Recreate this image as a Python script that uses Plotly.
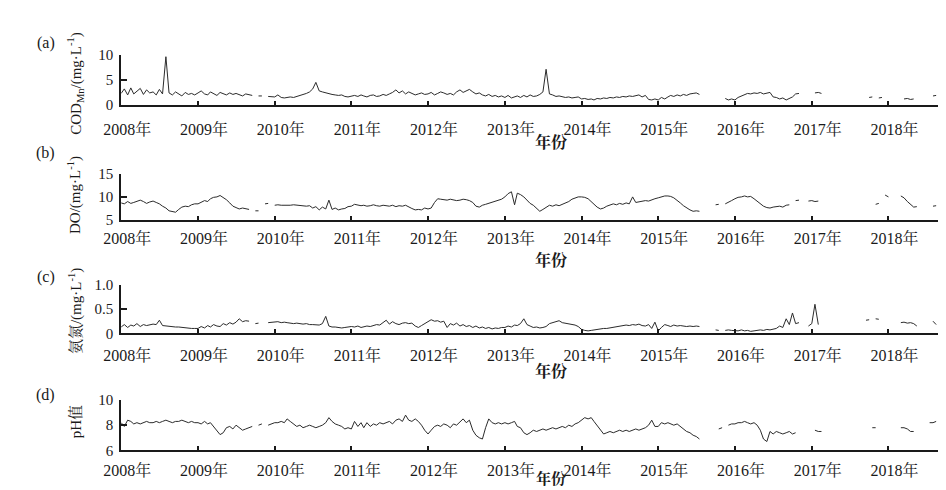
import plotly.graph_objects as go

N = None
# semi-monthly observation dates (1st and 16th of each month)
dates = [f"{y}-{m:02d}-{d:02d}" for y in range(2008, 2019) for m in range(1, 13) for d in (1, 16)][:262]

years = ["2008", "2009", "2010", "2011", "2012", "2013", "2014", "2015", "2016", "2017", "2018"]
year_labels = [y + "年" for y in years]

cod = (
    [2.3, 3.2, 2.0, 3.4, 2.2, 2.8, 3.3, 2.1, 3.0, 2.4, 2.6, 2.0, 3.1, 2.2, 9.6, 2.4, 2.0, 2.6, 2.2, 1.8, 2.5, 2.1, 2.3, 2.0]
    + [2.4, 2.8, 2.2, 2.0, 2.6, 2.3, 1.9, 2.5, 2.2, 2.0, 2.4, 2.1, 2.3, 2.0, 1.8, 2.2, 2.0, 1.9, N, 1.8, 1.8, N, 1.7, 1.7]
    + [1.6, 2.0, 1.5, 1.4, 1.5, 1.6, 1.5, 1.7, 1.8, 2.0, 2.3, 2.6, 3.2, 4.5, 2.8, 2.6, 2.4, 2.2, 2.1, 2.0, 1.9, 2.0, 1.7, 1.6]
    + [1.8, 1.9, 1.7, 2.0, 1.8, 1.6, 1.9, 2.0, 1.7, 1.8, 2.1, 1.9, 2.2, 2.5, 3.0, 2.4, 2.8, 2.2, 2.6, 2.3, 2.0, 2.2, 2.4, 2.1]
    + [2.2, 2.5, 2.0, 2.3, 2.6, 2.4, 2.1, 2.3, 2.0, 2.6, 3.0, 2.5, 2.8, 3.1, 2.6, 2.2, 2.4, 2.0, 1.8, 2.1, 1.7, 1.9, 1.6, 1.8]
    + [1.5, 1.9, 1.4, 1.7, 1.8, 1.5, 1.9, 1.6, 2.0, 1.7, 1.8, 2.1, 2.6, 7.1, 2.2, 2.0, 1.7, 1.8, 1.6, 1.5, 1.6, 1.4, 1.5, 1.6]
    + [1.2, 1.3, 1.1, 1.2, 1.0, 1.3, 1.2, 1.4, 1.3, 1.5, 1.4, 1.6, 1.5, 1.7, 1.6, 1.8, 1.7, 1.9, 2.0, 1.6, 1.9, 1.1, 1.0, 1.2]
    + [1.0, 1.5, 1.2, 1.6, 1.9, 1.7, 2.0, 1.8, 2.1, 1.9, 2.2, 2.3, 2.4, 2.1, N, N, N, N, N, N, N, 1.3, 1.0, 1.2]
    + [1.0, 1.5, 1.8, 2.1, 2.3, 2.2, 2.4, 2.3, 2.5, 2.2, 2.4, 2.5, 1.6, 1.5, 1.2, 1.4, 1.0, 1.3, 1.6, 2.2, 2.3, N, N, N]
    + [N, 2.4, 2.5, 2.3, N, N, N, N, N, N, N, N, N, N, N, N, N, N, 1.5, 1.6, N, 1.4, 1.5, N]
    + [N, N, N, N, N, 1.2, 1.3, 1.1, 1.2, N, N, N, N, N, 1.8, 1.9, N, N, N, 1.8, 1.8, N]
)

do = (
    [8.7, 8.5, 9.0, 8.6, 8.8, 9.0, 9.3, 9.0, 8.6, 8.9, 9.1, 8.8, 8.5, 8.0, 7.6, 7.0, 6.9, 6.7, 7.3, 7.8, 8.0, 7.9, 8.3, 8.5]
    + [8.5, 8.8, 9.2, 9.0, 9.6, 9.9, 10.0, 10.3, 9.9, 9.4, 8.7, 8.0, 7.7, 7.4, 7.6, 7.4, 7.3, N, 7.0, 7.0, N, 8.5, 8.6, N]
    + [8.2, 8.3, 8.2, 8.2, 8.1, 8.2, 8.3, 8.2, 8.2, 8.1, 8.0, 8.1, 7.6, 7.9, 7.2, 7.8, 7.4, 9.3, 7.3, 7.6, 7.2, 7.4, 7.5, 7.9]
    + [8.0, 8.4, 8.2, 8.1, 8.2, 8.0, 8.1, 8.3, 8.1, 8.0, 8.2, 8.1, 8.0, 8.2, 7.9, 8.1, 8.0, 8.2, 7.8, 7.5, 7.2, 7.3, 7.2, 7.6]
    + [7.4, 7.6, 8.8, 9.6, 9.5, 9.4, 9.3, 9.5, 9.4, 9.2, 9.3, 9.5, 9.4, 9.2, 8.8, 8.0, 7.8, 8.2, 8.4, 8.6, 8.8, 9.0, 9.2, 9.5]
    + [10.0, 10.7, 11.1, 8.3, 10.8, 10.5, 10.0, 9.3, 8.6, 8.2, 7.6, 6.9, 7.3, 7.8, 8.2, 8.0, 8.3, 8.1, 8.4, 8.6, 9.0, 9.5, 9.8, 10.0]
    + [10.0, 9.9, 9.6, 9.0, 8.4, 7.8, 7.4, 7.6, 8.0, 8.2, 8.5, 8.3, 8.6, 8.4, 8.7, 8.5, 10.0, 8.8, 8.9, 9.0, 9.2, 9.1, 9.4, 9.6]
    + [9.8, 10.0, 10.2, 10.2, 10.1, 9.8, 9.3, 8.7, 8.1, 7.6, 7.2, 6.9, 7.0, 6.9, N, N, N, N, 8.3, 8.4, N, 8.5, 8.8, 9.2]
    + [9.6, 9.9, 10.0, 10.2, 10.0, 10.1, 9.6, 9.0, 8.5, 8.0, 7.7, 7.6, 7.8, 7.9, 8.0, 7.8, 8.2, 8.3, N, 9.2, 9.3, N, N, 9.1]
    + [9.2, 9.0, 9.1, N, N, N, N, N, N, N, N, N, N, N, N, N, N, N, N, N, 8.4, 8.6, N, 10.4]
    + [10.0, N, N, N, 10.2, 9.8, 9.0, 8.4, 7.8, 7.9, N, N, N, N, 8.0, 8.1, N, N, 10.0, 10.1, N, N]
)

nh3n = (
    [0.13, 0.18, 0.12, 0.17, 0.15, 0.20, 0.14, 0.18, 0.16, 0.17, 0.19, 0.18, 0.27, 0.16, 0.15, 0.14, 0.14, 0.13, 0.13, 0.12, 0.12, 0.11, 0.10, 0.10]
    + [0.10, 0.14, 0.11, 0.16, 0.13, 0.18, 0.15, 0.14, 0.20, 0.17, 0.22, 0.19, 0.23, 0.30, 0.24, 0.26, 0.25, N, 0.20, 0.21, N, N, 0.22, 0.23]
    + [0.23, 0.24, 0.22, 0.23, 0.22, 0.21, 0.20, 0.21, 0.20, 0.19, 0.20, 0.18, 0.18, 0.17, 0.17, 0.20, 0.35, 0.15, 0.13, 0.13, 0.12, 0.11, 0.12, 0.13]
    + [0.14, 0.13, 0.15, 0.12, 0.14, 0.15, 0.14, 0.16, 0.18, 0.17, 0.22, 0.27, 0.19, 0.24, 0.20, 0.18, 0.21, 0.22, 0.20, 0.21, 0.15, 0.12, 0.16, 0.20]
    + [0.24, 0.28, 0.25, 0.26, 0.23, 0.25, 0.12, 0.20, 0.17, 0.21, 0.15, 0.18, 0.14, 0.16, 0.12, 0.15, 0.11, 0.13, 0.10, 0.12, 0.09, 0.11, 0.10, 0.12]
    + [0.12, 0.15, 0.13, 0.17, 0.16, 0.20, 0.30, 0.18, 0.15, 0.12, 0.13, 0.11, 0.12, 0.14, 0.20, 0.22, 0.24, 0.26, 0.22, 0.21, 0.20, 0.18, 0.17, 0.14]
    + [0.08, 0.06, 0.05, 0.06, 0.07, 0.08, 0.09, 0.10, 0.10, 0.11, 0.12, 0.13, 0.14, 0.15, 0.17, 0.16, 0.18, 0.17, 0.19, 0.16, 0.15, 0.18, 0.10, 0.23]
    + [0.05, 0.12, 0.18, 0.16, 0.14, 0.17, 0.15, 0.16, 0.15, 0.14, 0.15, 0.14, 0.15, 0.14, N, N, N, N, 0.07, 0.06, N, 0.06, 0.07, 0.06]
    + [0.06, 0.05, 0.07, 0.05, 0.06, 0.04, 0.05, 0.06, 0.07, 0.06, 0.08, 0.07, 0.08, 0.10, 0.15, 0.12, 0.30, 0.18, 0.42, 0.20, 0.22, N, N, 0.15]
    + [0.20, 0.60, 0.18, N, N, N, N, N, N, N, N, N, N, N, N, N, N, 0.27, 0.28, N, 0.30, 0.29, N, N]
    + [N, N, N, N, 0.22, 0.23, 0.21, 0.22, 0.20, 0.15, N, N, N, N, 0.25, 0.18, N, N, N, 0.30, 0.31, N]
)

ph = (
    [8.2, 7.9, 8.4, 8.3, 8.1, 8.2, 8.1, 8.2, 8.3, 8.2, 8.2, 8.3, 8.2, 8.3, 8.4, 8.3, 8.2, 8.3, 8.3, 8.4, 8.3, 8.2, 8.3, 8.2]
    + [8.2, 8.1, 8.3, 8.1, 8.2, 7.9, 7.5, 7.25, 7.4, 7.8, 7.9, 7.7, 8.0, 7.8, 7.6, 7.7, 7.8, 7.9, N, 8.0, 8.1, N, 8.0, 8.1]
    + [8.2, 8.2, 8.3, 8.2, 8.5, 8.3, 8.1, 7.9, 8.0, 7.8, 7.9, 8.0, 7.9, 7.8, 7.9, 8.0, 8.2, 8.6, 8.3, 8.1, 8.0, 7.9, 7.7, 7.8]
    + [7.7, 8.3, 7.9, 8.2, 7.8, 8.2, 7.9, 8.1, 8.0, 8.2, 8.1, 8.2, 8.3, 8.1, 8.4, 8.5, 8.3, 8.8, 8.4, 8.3, 8.5, 8.3, 8.0, 7.6]
    + [7.3, 7.6, 7.9, 8.0, 7.9, 8.1, 8.0, 7.8, 8.1, 8.0, 8.3, 8.5, 8.2, 8.4, 7.6, 7.2, 7.0, 6.9, 7.8, 8.5, 8.2, 8.1, 8.2, 8.1]
    + [8.2, 8.1, 8.2, 8.3, 7.9, 7.8, 7.4, 7.25, 7.4, 7.6, 7.5, 7.6, 7.7, 7.6, 7.7, 7.8, 7.7, 7.8, 7.9, 7.8, 8.0, 7.9, 8.1, 8.2]
    + [8.4, 8.6, 8.5, 8.6, 8.3, 8.0, 7.6, 7.3, 7.4, 7.5, 7.4, 7.5, 7.6, 7.5, 7.6, 7.5, 7.6, 7.7, 7.6, 7.7, 7.8, 8.0, 8.4, 7.9]
    + [7.9, 8.2, 8.1, 8.2, 8.1, 8.0, 8.1, 7.9, 7.7, 7.5, 7.4, 7.2, 7.1, 6.9, N, N, N, N, N, 7.7, 7.8, N, 8.0, 8.1]
    + [8.1, 8.2, 8.2, 8.3, 8.2, 8.1, 8.2, 8.0, 7.6, 6.9, 6.7, 7.5, 7.3, 7.5, 7.4, 7.3, 7.4, 7.5, 7.3, 7.4, N, N, N, N]
    + [N, 7.6, 7.5, 7.5, N, N, N, N, N, N, N, N, N, N, N, N, N, N, N, 7.8, 7.8, N, N, N]
    + [N, N, N, N, 7.8, 7.8, 7.7, 7.5, 7.5, N, N, N, N, 8.2, 8.2, 8.3, N, N, 8.4, 8.4, 8.3, N]
)

for name, s in (("cod", cod), ("do", do), ("nh3n", nh3n), ("ph", ph)):
    assert len(s) == len(dates), (name, len(s), len(dates))

W, H = 946, 490
SERIF = "Liberation Serif, 'Noto Serif CJK SC', 'Noto Sans CJK SC', serif"
CJK = "'Noto Serif CJK SC', 'Noto Sans CJK SC', serif"
LINE = "#2b2b2b"
INK = "#1a1a1a"


def py(px):
    return 1 - px / H


def pxx(px):
    return px / W


panels = [
    dict(data=cod, top=40, bot=92, rng=[0, 10], tv=[0, 5, 10], tt=["0", "5", "10"],
         title="COD<sub>Mn</sub>/(mg·L<sup>-1</sup>)", ty=70, tag="(a)", tagy=28, xt=130, xs=16, stand=9),
    dict(data=do, top=163, bot=211, rng=[5, 15], tv=[5, 10, 15], tt=["5", "10", "15"],
         title="DO/(mg·L<sup>-1</sup>)", ty=185, tag="(b)", tagy=142, xt=252, xs=16, stand=3),
    dict(data=nh3n, top=278, bot=328, rng=[0, 1], tv=[0, 0.5, 1.0], tt=["0", "0.5", "1.0"],
         title="氨氮/(mg·L<sup>-1</sup>)", ty=305, tag="(c)", tagy=270, xt=366, xs=16, stand=7),
    dict(data=ph, top=397, bot=449, rng=[6, 10], tv=[6, 8, 10], tt=["6", "8", "10"],
         title="pH值", ty=420, tag="(d)", tagy=392, xt=477, xs=15, stand=4),
]

fig = go.Figure()
annotations = []
layout = dict(
    width=W, height=H, margin=dict(l=0, r=0, t=0, b=0),
    paper_bgcolor="white", plot_bgcolor="white", showlegend=False,
    font=dict(family=SERIF, size=15, color=INK),
)
tickvals = [f"{y}-01-01" for y in years]
for i, p in enumerate(panels, start=1):
    xa = "x" if i == 1 else f"x{i}"
    ya = "y" if i == 1 else f"y{i}"
    fig.add_trace(go.Scatter(x=dates, y=p["data"], mode="lines", xaxis=xa, yaxis=ya,
                             line=dict(color=LINE, width=1), connectgaps=False, hoverinfo="skip"))
    layout[f"xaxis{'' if i == 1 else i}"] = dict(
        domain=[pxx(97), 1], anchor=ya, type="date",
        range=["2008-01-01", "2018-11-09"],
        tickmode="array", tickvals=tickvals, ticktext=year_labels,
        ticks="inside", ticklen=4, tickwidth=1.5, tickcolor=INK,
        showline=True, linecolor=INK, linewidth=2,
        showgrid=False, zeroline=False,
        tickfont=dict(family=SERIF, size=16, color=INK),
        ticklabelstandoff=p["stand"], ticklabelshift=6,
    )
    layout[f"yaxis{'' if i == 1 else i}"] = dict(
        domain=[py(p["bot"]), py(p["top"])], anchor=xa,
        range=p["rng"], tickmode="array", tickvals=p["tv"], ticktext=p["tt"],
        ticks="inside", ticklen=6, tickwidth=1.5, tickcolor=INK,
        showline=True, linecolor=INK, linewidth=2,
        showgrid=False, zeroline=False,
        tickfont=dict(family=SERIF, size=15, color=INK),
        ticklabelstandoff=3,
    )
    annotations.append(dict(xref="paper", yref="paper", x=pxx(50), y=py(p["ty"]),
                            text=p["title"], textangle=-90, showarrow=False,
                            xanchor="center", yanchor="middle",
                            font=dict(family=SERIF, size=15, color=INK)))
    annotations.append(dict(xref="paper", yref="paper", x=pxx(20), y=py(p["tagy"]),
                            text=p["tag"], showarrow=False, xanchor="center", yanchor="middle",
                            font=dict(family=SERIF, size=16, color=INK)))
    annotations.append(dict(xref="paper", yref="paper", x=pxx(535), y=py(p["xt"]),
                            text="年份", showarrow=False, xanchor="center", yanchor="middle",
                            font=dict(family=CJK, size=p["xs"], color=INK, weight="bold")))

layout["annotations"] = annotations
fig.update_layout(**layout)
fig.write_html("out.html")
